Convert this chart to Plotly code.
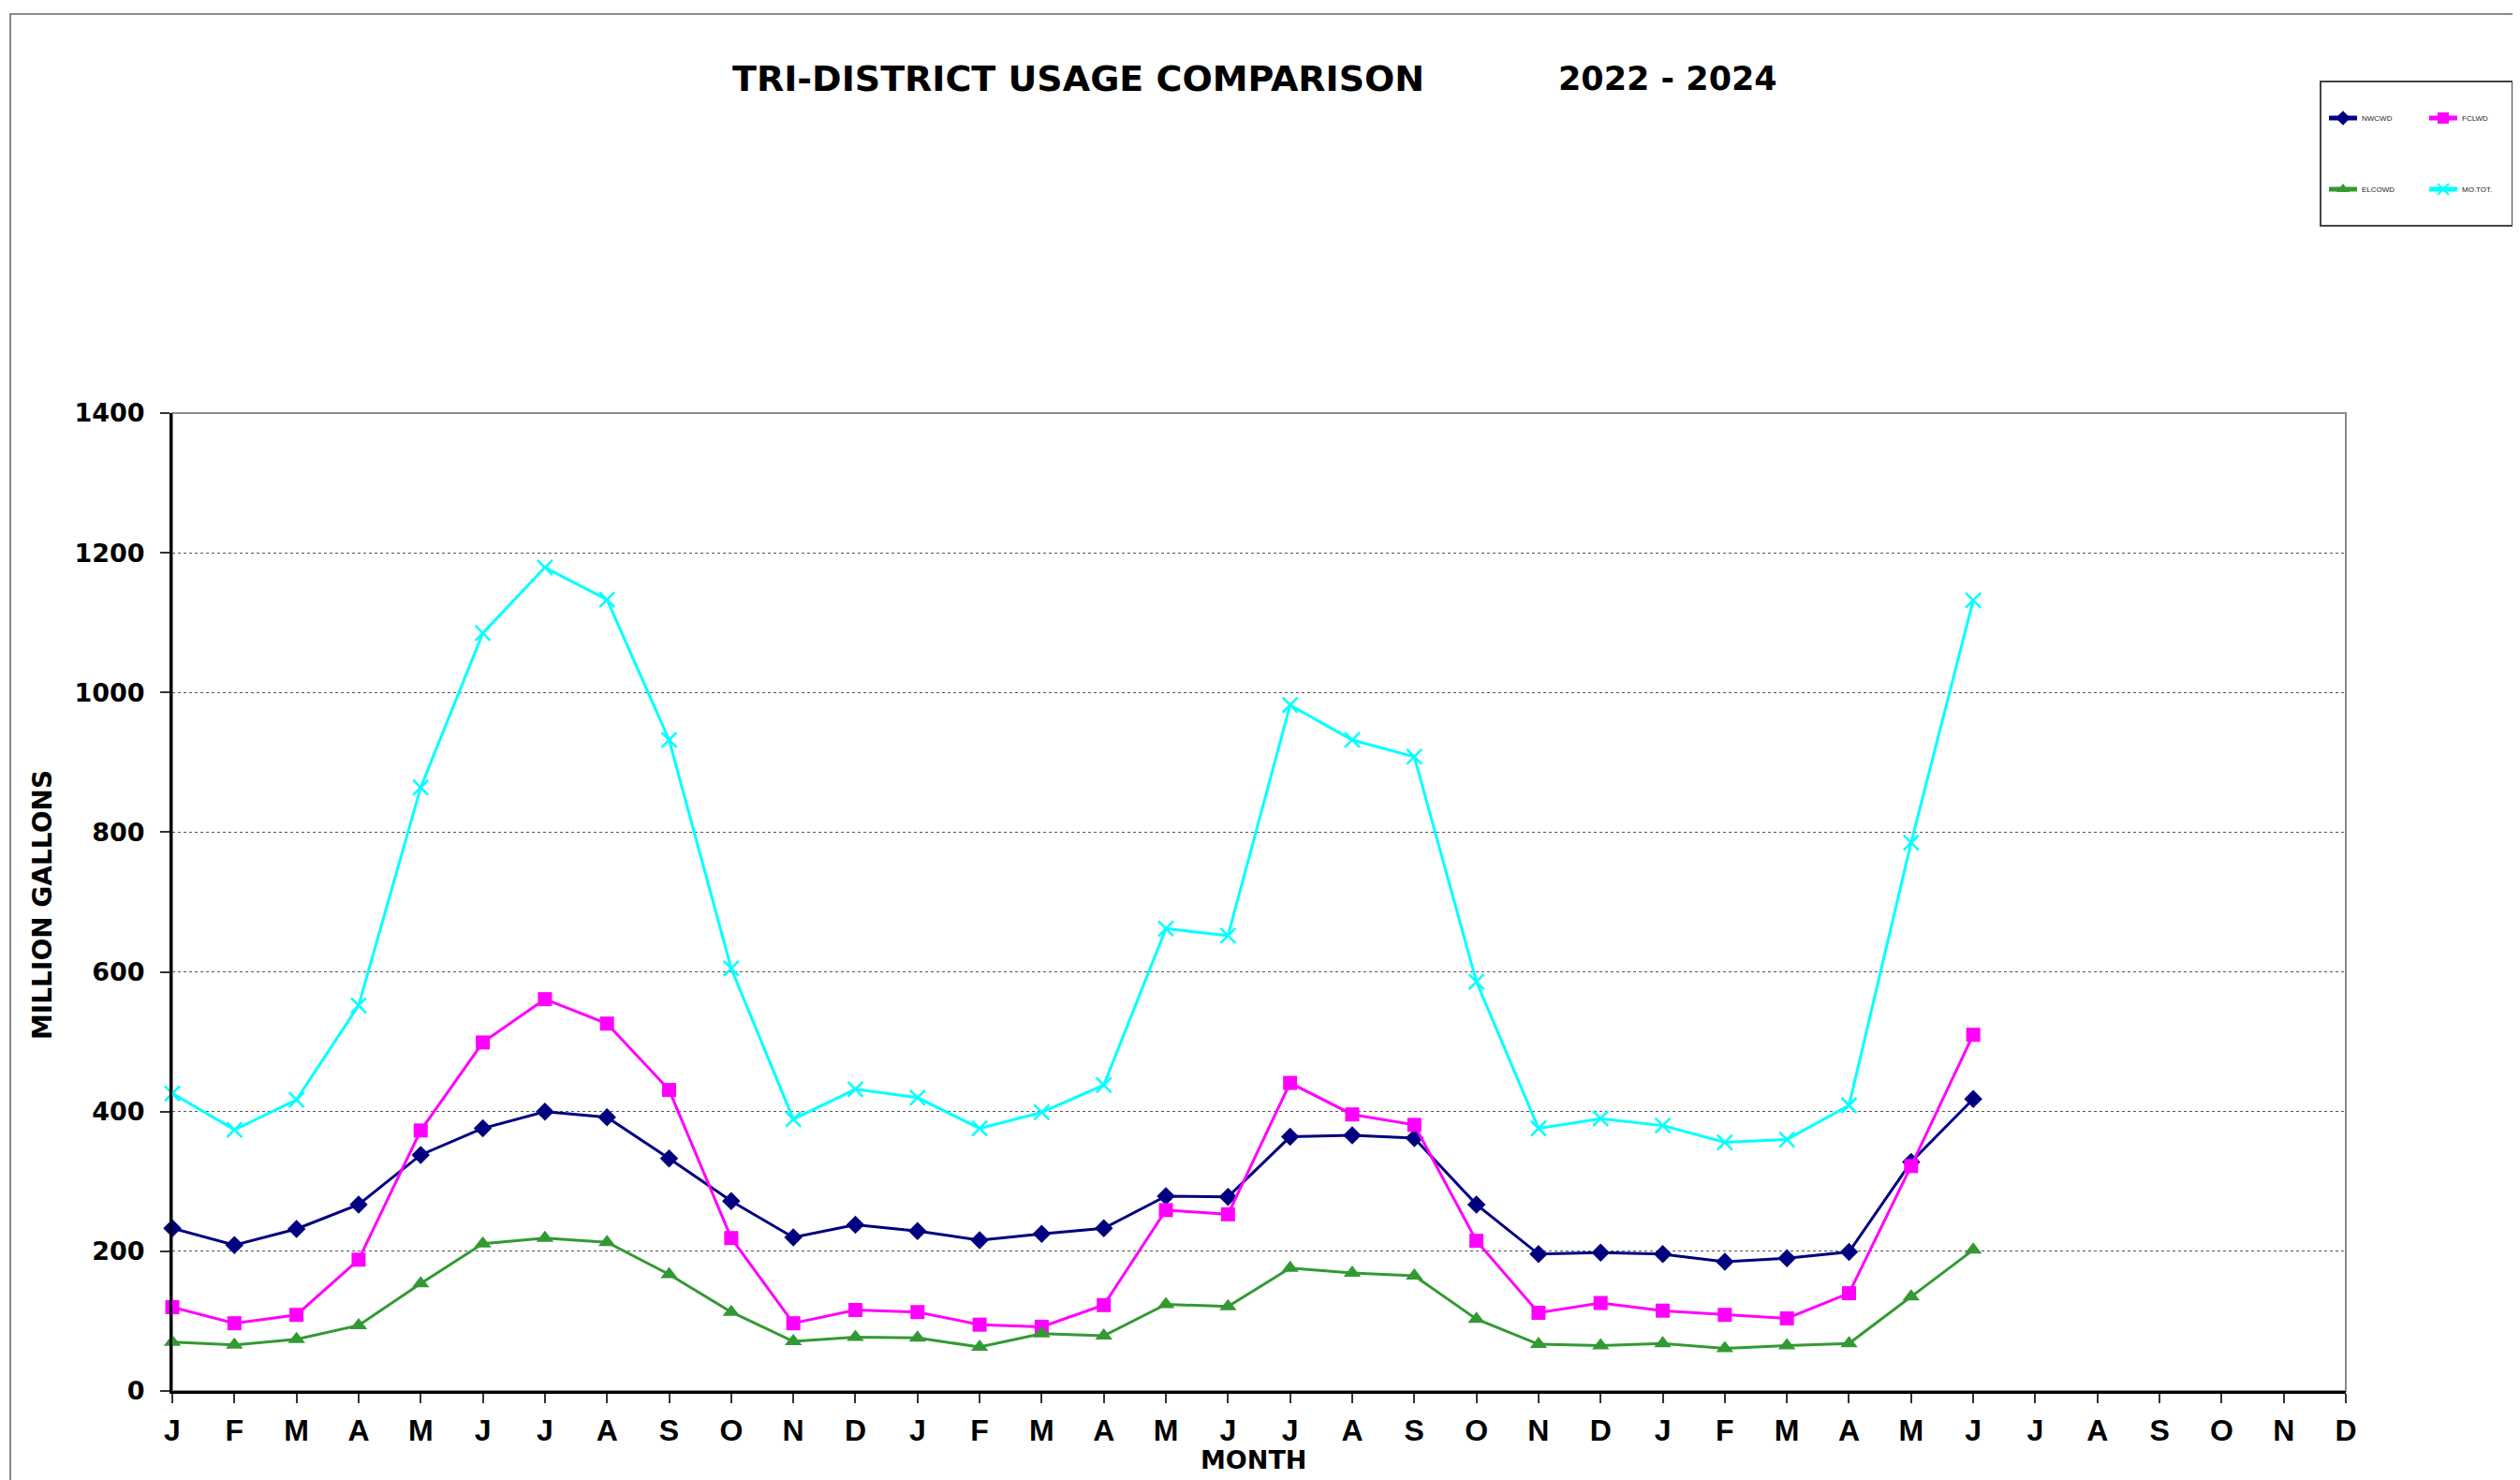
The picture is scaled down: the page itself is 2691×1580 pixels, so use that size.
import plotly.graph_objects as go

months = ["J", "F", "M", "A", "M", "J", "J", "A", "S", "O", "N", "D"] * 3
month_index = list(range(len(months)))

nwcwd = [233, 209, 232, 267, 338, 376, 400, 392, 333, 272, 220, 238, 229, 216, 225,
         233, 279, 278, 364, 366, 362, 267, 196, 198, 196, 185, 190, 199, 328, 418]
fclwd = [120, 97, 109, 188, 373, 499, 561, 526, 431, 219, 97, 116, 113, 95, 92,
         123, 259, 253, 441, 396, 381, 215, 112, 126, 115, 109, 104, 140, 322, 510]
elcowd = [70, 66, 74, 94, 154, 211, 219, 213, 167, 113, 71, 77, 76, 63, 82,
          79, 124, 121, 176, 169, 165, 103, 67, 65, 68, 61, 65, 68, 135, 202]
mo_tot = [426, 374, 417, 552, 864, 1085, 1179, 1133, 932, 605, 389, 432, 420, 376, 399,
          438, 662, 652, 982, 932, 908, 586, 376, 390, 380, 356, 360, 409, 785, 1132]

series_names = ["NWCWD", "FCLWD", "ELCOWD", "MO.TOT."]
y_ticks = [0, 200, 400, 600, 800, 1000, 1200, 1400]

OFF = 8  # default page body margin
W, H = 2691 - OFF, 1580 - OFF
# page-pixel positions of plot area
PL, PR, PT, PB = 184, 2505, 441, 1485
L, T = PL - OFF, PT - OFF
R = W - (PR - OFF)
B = H - (PB - OFF)
pw, ph = PR - PL, PB - PT


def px(x):
    return (x - PL) / pw


def py(y):
    return (PB - y) / ph


fig = go.Figure()

styles = [
    (nwcwd, "#000080", "diamond", 15, 3, "legend"),
    (fclwd, "#FF00FF", "square", 15, 3, "legend"),
    (elcowd, "#339933", "triangle-up", 16, 3, "legend2"),
    (mo_tot, "#00FFFF", "x-thin", 16, 3, "legend2"),
]
for name, (vals, col, sym, size, lw, lg) in zip(series_names, styles):
    fig.add_trace(go.Scatter(
        x=month_index[:len(vals)], y=vals, name=name, mode="lines+markers",
        line=dict(color=col, width=lw),
        marker=dict(symbol=sym, size=size, color=col,
                    line=dict(color=col, width=2.5 if sym == "x-thin" else 0)),
        cliponaxis=False, legend=lg,
    ))

legend_common = dict(
    orientation="h", xanchor="left", yanchor="middle",
    bgcolor="rgba(0,0,0,0)", borderwidth=0, entrywidth=62, entrywidthmode="pixels",
    font=dict(family="Liberation Sans, Arial, sans-serif", size=8, color="#222"),
    itemsizing="constant",
)

fig.update_layout(
    width=W, height=H,
    margin=dict(l=L, r=R, t=T, b=B, autoexpand=False),
    paper_bgcolor="white", plot_bgcolor="white",
    xaxis=dict(
        range=[0, 35], tickmode="array", tickvals=list(range(36)), ticktext=months,
        showgrid=False, zeroline=False, showline=True, linecolor="black", linewidth=2.5,
        ticks="outside", ticklen=10, tickwidth=1.5, tickcolor="#333",
        tickfont=dict(family="Liberation Sans, Arial, sans-serif", size=32, color="black",
                      weight="bold"),
        ticklabelstandoff=2,
    ),
    yaxis=dict(
        range=[0, 1400], tickmode="array", tickvals=y_ticks,
        showgrid=True, gridcolor="#555", griddash="dot", gridwidth=1,
        zeroline=False, showline=True, linecolor="black", linewidth=3,
        ticks="outside", ticklen=10, tickwidth=1.5, tickcolor="#333",
        tickfont=dict(family="DejaVu Sans, sans-serif", size=27, color="black", weight="bold"),
        ticklabelstandoff=11,
    ),
    showlegend=True,
    legend=dict(x=px(2482), y=py(126), **legend_common),
    legend2=dict(x=px(2482), y=py(202), **legend_common),
    shapes=[
        # outer page frame
        dict(type="rect", xref="paper", yref="paper", x0=px(11), x1=px(2689),
             y0=py(1700), y1=py(15), line=dict(color="#8a8a8a", width=2), layer="below"),
        # plot area frame
        dict(type="rect", xref="paper", yref="paper", x0=0, x1=1, y0=0, y1=1,
             line=dict(color="#8a8a8a", width=2), layer="below"),
        # legend box
        dict(type="rect", xref="paper", yref="paper", x0=px(2478), x1=px(2683),
             y0=py(241), y1=py(87), line=dict(color="#444", width=2), layer="below"),
    ],
    annotations=[
        dict(text="<b>TRI-DISTRICT USAGE COMPARISON</b>", xref="paper", yref="paper",
             x=px(1151), y=py(84), xanchor="center", yanchor="middle", showarrow=False,
             font=dict(family="DejaVu Sans, sans-serif", size=38, color="black")),
        dict(text="<b>2022 - 2024</b>", xref="paper", yref="paper",
             x=px(1781), y=py(84), xanchor="center", yanchor="middle", showarrow=False,
             font=dict(family="DejaVu Sans, sans-serif", size=35, color="black")),
        dict(text="<b>MILLION GALLONS</b>", xref="paper", yref="paper",
             x=px(45), y=py(966), xanchor="center", yanchor="middle", showarrow=False,
             textangle=-90,
             font=dict(family="DejaVu Sans, sans-serif", size=28, color="black")),
        dict(text="<b>MONTH</b>", xref="paper", yref="paper",
             x=px(1338), y=py(1558), xanchor="center", yanchor="middle", showarrow=False,
             font=dict(family="DejaVu Sans, sans-serif", size=27, color="black")),
    ],
)

fig.write_html("out.html")
